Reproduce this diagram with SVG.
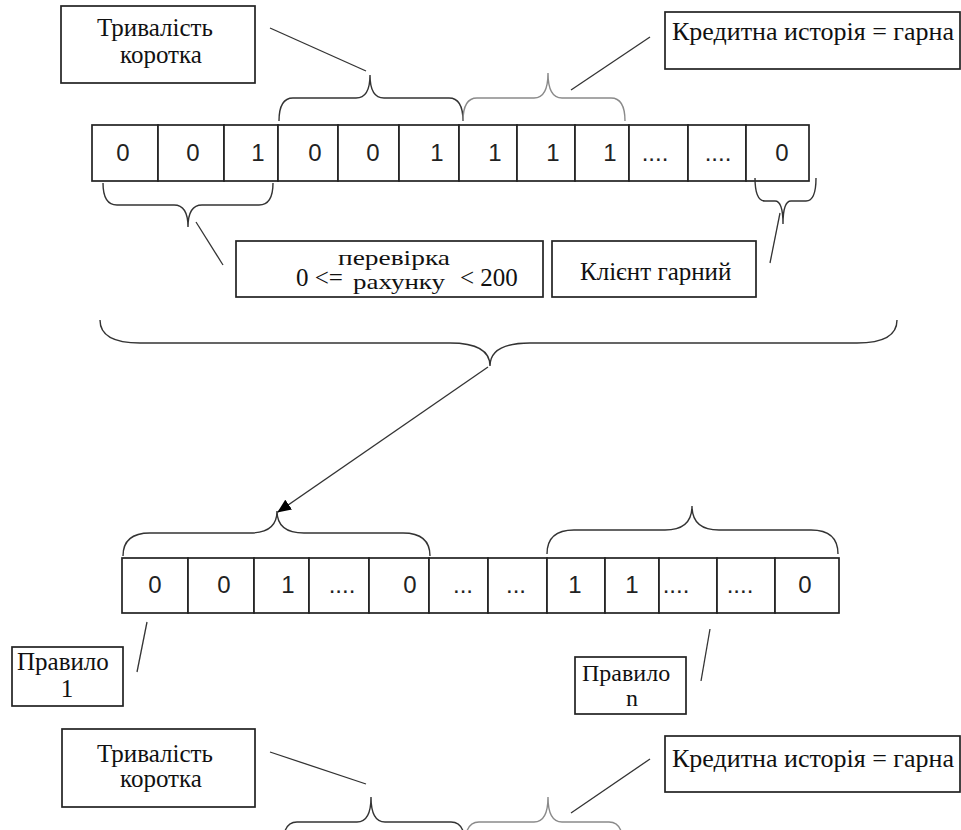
<svg xmlns="http://www.w3.org/2000/svg" width="961" height="830" viewBox="0 0 961 830">
<defs>
<style>
.box{fill:#fff;stroke:#222;stroke-width:1.7}
.cell{fill:#fff;stroke:#222;stroke-width:1.7}
.ser{font-family:"Liberation Serif","Times New Roman",serif;font-size:25px;fill:#111}
.san{font-family:"Liberation Sans",Arial,sans-serif;font-size:24px;fill:#222;text-anchor:middle}
.br{fill:none;stroke:#333;stroke-width:1.4}
.brg{fill:none;stroke:#8a8a8a;stroke-width:1.4}
.ln{fill:none;stroke:#333;stroke-width:1.3}
</style>
<marker id="ah" viewBox="0 0 14 12" refX="13" refY="6" markerWidth="14" markerHeight="12" markerUnits="userSpaceOnUse" orient="auto"><path d="M0,0 L14,6 L0,12 z" fill="#000"/></marker>
</defs>
<rect width="961" height="830" fill="#fff"/>

<g id="row1">
<rect class="cell" x="92" y="125" width="66" height="56"/>
<rect class="cell" x="158" y="125" width="66" height="56"/>
<rect class="cell" x="224" y="125" width="54" height="56"/>
<rect class="cell" x="278" y="125" width="60" height="56"/>
<rect class="cell" x="338" y="125" width="61" height="56"/>
<rect class="cell" x="399" y="125" width="60" height="56"/>
<rect class="cell" x="459" y="125" width="58" height="56"/>
<rect class="cell" x="517" y="125" width="58" height="56"/>
<rect class="cell" x="575" y="125" width="54" height="56"/>
<rect class="cell" x="629" y="125" width="59" height="56"/>
<rect class="cell" x="688" y="125" width="58" height="56"/>
<rect class="cell" x="746" y="125" width="63" height="56"/>
<text class="san" y="161"><tspan x="123">0</tspan><tspan x="193">0</tspan><tspan x="258">1</tspan><tspan x="315">0</tspan><tspan x="373">0</tspan><tspan x="437">1</tspan><tspan x="495">1</tspan><tspan x="553">1</tspan><tspan x="610">1</tspan><tspan x="655">....</tspan><tspan x="718">....</tspan><tspan x="782">0</tspan></text>
</g>

<g id="row2">
<rect class="cell" x="122" y="558" width="66" height="55"/>
<rect class="cell" x="188" y="558" width="66" height="55"/>
<rect class="cell" x="254" y="558" width="55" height="55"/>
<rect class="cell" x="309" y="558" width="60" height="55"/>
<rect class="cell" x="369" y="558" width="60" height="55"/>
<rect class="cell" x="429" y="558" width="59" height="55"/>
<rect class="cell" x="488" y="558" width="59" height="55"/>
<rect class="cell" x="547" y="558" width="58" height="55"/>
<rect class="cell" x="605" y="558" width="54" height="55"/>
<rect class="cell" x="659" y="558" width="58" height="55"/>
<rect class="cell" x="717" y="558" width="58" height="55"/>
<rect class="cell" x="775" y="558" width="64" height="55"/>
<text class="san" y="593"><tspan x="155">0</tspan><tspan x="224">0</tspan><tspan x="288">1</tspan><tspan x="342">....</tspan><tspan x="410">0</tspan><tspan x="463">...</tspan><tspan x="516">...</tspan><tspan x="575">1</tspan><tspan x="632">1</tspan><tspan x="676">....</tspan><tspan x="740">....</tspan><tspan x="805">0</tspan></text>
</g>

<g id="box-duration-top">
<rect class="box" x="61" y="6" width="194" height="77"/>
<text class="ser" x="97" y="36">Тривалість</text>
<text class="ser" x="120" y="63">коротка</text>
</g>

<g id="box-credit-top">
<rect class="box" x="665" y="12" width="295" height="57"/>
<text class="ser" x="672" y="40" style="font-size:26px">Кредитна исторія = гарна</text>
</g>

<g id="box-check">
<rect class="box" x="236" y="241" width="307" height="56"/>
<text class="ser" x="296" y="286">0 &lt;=</text>
<text class="ser" x="338" y="265" style="font-size:22px" textLength="112" lengthAdjust="spacingAndGlyphs">перевірка</text>
<text class="ser" x="353" y="289" style="font-size:22px" textLength="92" lengthAdjust="spacingAndGlyphs">рахунку</text>
<text class="ser" x="460" y="286">&lt; 200</text>
</g>

<g id="box-client">
<rect class="box" x="552" y="241" width="204" height="56"/>
<text class="ser" x="580" y="280">Клієнт гарний</text>
</g>

<g id="box-rule1">
<rect class="box" x="12" y="647" width="111" height="59"/>
<text class="ser" x="17" y="670">Правило</text>
<text class="ser" x="67" y="697" text-anchor="middle">1</text>
</g>

<g id="box-rulen">
<rect class="box" x="575" y="657" width="111" height="57"/>
<text class="ser" x="582" y="681" style="font-size:24px">Правило</text>
<text class="ser" x="632" y="706" text-anchor="middle" style="font-size:24px">n</text>
</g>

<g id="box-duration-bottom">
<rect class="box" x="62" y="729" width="193" height="78"/>
<text class="ser" x="97" y="762">Тривалість</text>
<text class="ser" x="120" y="787">коротка</text>
</g>

<g id="box-credit-bottom">
<rect class="box" x="665" y="736" width="295" height="56"/>
<text class="ser" x="672" y="767" style="font-size:26px">Кредитна исторія = гарна</text>
</g>

<g id="connectors">
<path class="br" d="M279,121 Q279,98 293,98 L356,98 Q370,98 370,75 Q370,98 384,98 L449,98 Q463,98 463,121"/>
<path class="brg" d="M463,121 Q463,98 477,98 L534,98 Q548,98 548,73 Q548,98 562,98 L611,98 Q625,98 625,121"/>
<path class="br" d="M103,183 Q103,205 117,205 L174,205 Q188,205 188,227 Q188,205 202,205 L259,205 Q273,205 273,183"/>
<path class="br" d="M755,178 Q755,201 765,201 L775,201 Q783,201 783,224 Q783,201 791,201 L806,201 Q816,201 816,178"/>
<path class="br" d="M100,320 Q100,343 140,343 L450,343 Q490,343 490,366 Q490,343 530,343 L857,343 Q897,343 897,320"/>
<path class="br" d="M123,556 Q123,533 150,533 L250,533 Q277,533 277,511 Q277,533 304,533 L403,533 Q430,533 430,556"/>
<path class="br" d="M547,554 Q547,530 574,530 L665,530 Q692,530 692,506 Q692,530 719,530 L811,530 Q838,530 838,554"/>
<path class="br" d="M283,845 Q283,822 297,822 L357,822 Q371,822 371,797 Q371,822 385,822 L451,822 Q465,822 465,845"/>
<path class="brg" d="M465,845 Q465,822 479,822 L534,822 Q548,822 548,797 Q548,822 562,822 L609,822 Q623,822 623,845"/>
<line class="ln" x1="270" y1="28" x2="366" y2="71"/>
<line class="ln" x1="571" y1="90" x2="650" y2="37"/>
<line class="ln" x1="196" y1="222" x2="223" y2="265"/>
<line class="ln" x1="780" y1="213" x2="770" y2="263"/>
<line class="ln" x1="147" y1="622" x2="137" y2="672"/>
<line class="ln" x1="710" y1="629" x2="701" y2="681"/>
<line class="ln" x1="270" y1="752" x2="366" y2="784"/>
<line class="ln" x1="571" y1="813" x2="650" y2="759"/>
<line class="ln" x1="488" y1="367" x2="278" y2="512" stroke="#111" stroke-width="1.6" marker-end="url(#ah)"/>
</g>
</svg>
